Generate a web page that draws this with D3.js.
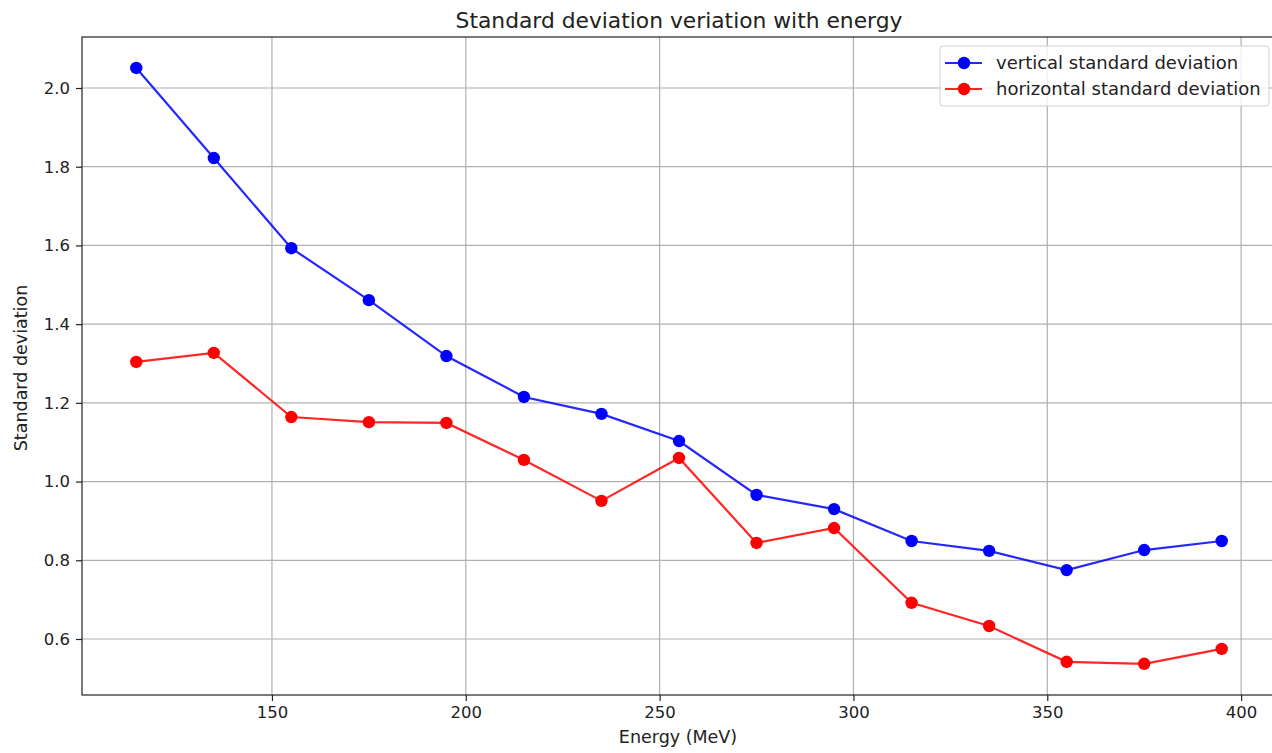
<!DOCTYPE html>
<html>
<head>
    <script src="https://d3js.org/d3.v7.min.js"></script>
    <style>
        body { margin: 0; background: #fff; }
        svg { font-family: "DejaVu Sans", sans-serif; display: block; }
    </style>
</head>
<body>
<script>
    // energies (MeV)
    var energy = [115, 135, 155, 175, 195, 215, 235, 255, 275, 295, 315, 335, 355, 375, 395];
    var verticalStd = [2.051, 1.822, 1.593, 1.461, 1.319, 1.215, 1.172, 1.103, 0.966, 0.930, 0.849, 0.824, 0.775, 0.826, 0.849];
    var horizontalStd = [1.304, 1.327, 1.164, 1.151, 1.149, 1.055, 0.951, 1.060, 0.844, 0.882, 0.692, 0.633, 0.542, 0.537, 0.575];
    var xTicks = [150, 200, 250, 300, 350, 400];
    var yTicks = [0.6, 0.8, 1.0, 1.2, 1.4, 1.6, 1.8, 2.0];

    var series = [
        {name: "vertical standard deviation", color: "blue", values: verticalStd},
        {name: "horizontal standard deviation", color: "red", values: horizontalStd}
    ];

    var svg = d3.select("body").append("svg")
        .attr("width", 1272)
        .attr("height", 753);

    var margin = {top: 37, left: 82, bottom: 695, right: 1276};

    var x = d3.scaleLinear().domain([101, 409]).range([margin.left, margin.right]);
    var y = d3.scaleLinear().domain([0.4577, 2.1296]).range([margin.bottom, margin.top]);

    // grid
    svg.append("g").selectAll("line").data(xTicks).enter().append("line")
        .attr("x1", d => x(d)).attr("x2", d => x(d))
        .attr("y1", margin.top).attr("y2", margin.bottom)
        .attr("stroke", "#b0b0b0").attr("stroke-width", 1.2);
    svg.append("g").selectAll("line").data(yTicks).enter().append("line")
        .attr("y1", d => y(d)).attr("y2", d => y(d))
        .attr("x1", margin.left).attr("x2", margin.right)
        .attr("stroke", "#b0b0b0").attr("stroke-width", 1.2);

    // axes
    var xAxis = svg.append("g")
        .attr("transform", "translate(0," + margin.bottom + ")")
        .call(d3.axisBottom(x).tickValues(xTicks).tickSize(6).tickPadding(5).tickFormat(d3.format("d")));
    var yAxis = svg.append("g")
        .attr("transform", "translate(" + margin.left + ",0)")
        .call(d3.axisLeft(y).tickValues(yTicks).tickSize(6).tickPadding(6).tickFormat(d3.format(".1f")));
    [xAxis, yAxis].forEach(function(a) {
        a.select(".domain").remove();
        a.selectAll("line").attr("stroke", "#222").attr("stroke-width", 1.2);
        a.selectAll("text").attr("fill", "#222").style("font-size", "16.5px")
            .style("font-family", "DejaVu Sans, sans-serif");
    });

    // frame
    svg.append("rect")
        .attr("x", margin.left).attr("y", margin.top)
        .attr("width", margin.right - margin.left).attr("height", margin.bottom - margin.top)
        .attr("fill", "none").attr("stroke", "#222").attr("stroke-width", 1.2);

    var line = d3.line()
        .x((d, i) => x(energy[i]))
        .y(d => y(d));

    series.forEach(function(s) {
        svg.append("path")
            .datum(s.values)
            .attr("d", line)
            .attr("fill", "none")
            .attr("stroke", s.color)
            .attr("stroke-opacity", 0.85)
            .attr("stroke-width", 2.2);
        svg.append("g").selectAll("circle").data(s.values).enter().append("circle")
            .attr("cx", (d, i) => x(energy[i]))
            .attr("cy", d => y(d))
            .attr("r", 6.2)
            .attr("fill", s.color);
    });

    // title and labels
    svg.append("text")
        .attr("x", 679).attr("y", 28)
        .attr("text-anchor", "middle")
        .style("font-size", "21.8px").attr("fill", "#222")
        .text("Standard deviation veriation with energy");
    svg.append("text")
        .attr("x", 678).attr("y", 743)
        .attr("text-anchor", "middle")
        .style("font-size", "17.5px").attr("fill", "#222")
        .text("Energy (MeV)");
    svg.append("text")
        .attr("transform", "translate(27," + 368 + ") rotate(-90)")
        .attr("text-anchor", "middle")
        .style("font-size", "17.5px").attr("fill", "#222")
        .text("Standard deviation");

    // legend
    var legend = svg.append("g").attr("transform", "translate(940,46)");
    legend.append("rect")
        .attr("width", 329).attr("height", 60).attr("rx", 3)
        .attr("fill", "white").attr("fill-opacity", 0.8)
        .attr("stroke", "#d0d0d0");
    series.forEach(function(s, i) {
        var gy = 17 + i * 26;
        legend.append("line")
            .attr("x1", 5).attr("x2", 42).attr("y1", gy).attr("y2", gy)
            .attr("stroke", s.color).attr("stroke-opacity", 0.85).attr("stroke-width", 2.2);
        legend.append("circle").attr("cx", 24).attr("cy", gy).attr("r", 6.2).attr("fill", s.color);
        legend.append("text")
            .attr("x", 56).attr("y", gy + 6)
            .style("font-size", "18px").attr("fill", "#222")
            .text(s.name);
    });
</script>
</body>
</html>
